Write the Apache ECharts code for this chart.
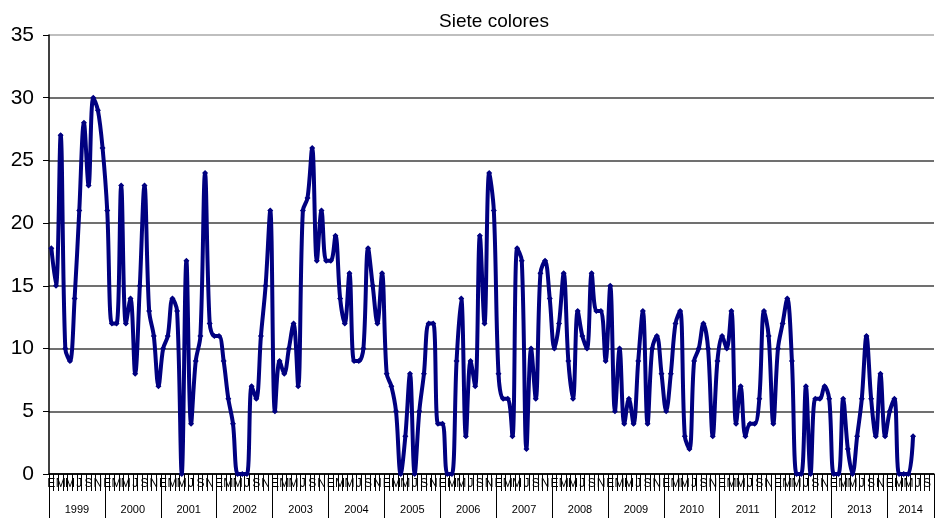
<!DOCTYPE html>
<html>
<head>
<meta charset="utf-8">
<script src="https://cdn.jsdelivr.net/npm/echarts@6/dist/echarts.min.js"></script>
<style>
html,body{margin:0;padding:0;background:#fff;}
#chart{width:937px;height:518px;}
</style>
</head>
<body>
<div id="chart"></div>
<script>
const monthLetters = ['E','F','M','A','M','J','J','A','S','O','N','D'];
const years = ['1999','2000','2001','2002','2003','2004','2005','2006','2007','2008','2009','2010','2011','2012','2013','2014'];
const monthsIn2014 = 10;
const yTicks = [0,5,10,15,20,25,30,35];

const values1999 = [18,15,27,10,9,14,21,28,23,30,29,26];
const values2000 = [21,12,12,23,12,14,8,15,23,13,11,7];
const values2001 = [10,11,14,13,0,17,4,9,11,24,12,11];
const values2002 = [11,9,6,4,0,0,0,7,6,11,15,21];
const values2003 = [5,9,8,10,12,7,21,22,26,17,21,17];
const values2004 = [17,19,14,12,16,9,9,10,18,15,12,16];
const values2005 = [8,7,5,0,3,8,0,5,8,12,12,4];
const values2006 = [4,0,0,9,14,3,9,7,19,12,24,21];
const values2007 = [8,6,6,3,18,17,2,10,6,16,17,14];
const values2008 = [10,12,16,9,6,13,11,10,16,13,13,9];
const values2009 = [15,5,10,4,6,4,9,13,4,10,11,8];
const values2010 = [5,8,12,13,3,2,9,10,12,10,3,9];
const values2011 = [11,10,13,4,7,3,4,4,6,13,11,4];
const values2012 = [10,12,14,9,0,0,7,0,6,6,7,6];
const values2013 = [0,0,6,2,0,3,6,11,6,3,8,3];
const values2014 = [5,6,0,0,0,3,null,null,null,null];

const series = [].concat(values1999,values2000,values2001,values2002,values2003,values2004,
  values2005,values2006,values2007,values2008,values2009,values2010,values2011,values2012,
  values2013,values2014);

const categories = [];
years.forEach((y, k) => {
  const n = (k === years.length - 1) ? monthsIn2014 : 12;
  for (let m = 0; m < n; m++) categories.push(monthLetters[m]);
});
const total = categories.length;

const yearTickPos = [];
const yearLabelPos = [];
const yearLabelMap = {};
years.forEach((y, k) => {
  const start = k * 12;
  const end = Math.min(start + 12, total);
  yearTickPos.push(start);
  const c = (start + end) / 2;
  yearLabelPos.push(c);
  yearLabelMap[c] = y;
});
yearTickPos.push(total);

const chart = echarts.init(document.getElementById('chart'), null, {renderer:'canvas'});
const font = 'Liberation Sans, Arial, sans-serif';
chart.setOption({
  animation: false,
  backgroundColor: '#fff',
  title: {
    text: 'Siete colores',
    left: 489,
    textAlign: 'center',
    top: 7,
    textStyle: {fontFamily: font, fontSize: 19, fontWeight: 'normal', color: '#000'}
  },
  grid: {left: 49, right: 3, top: 35, bottom: 44, containLabel: false},
  xAxis: [
    {
      type: 'category',
      data: categories,
      boundaryGap: true,
      position: 'bottom',
      axisLine: {show: true, lineStyle: {color: '#000', width: 1.5}},
      axisTick: {show: true, interval: 0, length: 17, lineStyle: {color: '#000', width: 1}},
      axisLabel: {interval: 1, margin: 4, fontSize: 12, fontFamily: 'Liberation Sans Narrow, Arial Narrow, sans-serif', color: '#000'},
      splitLine: {show: false}
    },
    {
      type: 'value',
      min: 0,
      max: total,
      position: 'bottom',
      axisLine: {show: false},
      axisTick: {show: true, customValues: yearTickPos, length: 44, lineStyle: {color: '#000', width: 1}},
      axisLabel: {
        customValues: yearLabelPos,
        margin: 30,
        fontSize: 11,
        fontFamily: font,
        color: '#000',
        formatter: v => yearLabelMap[v] || ''
      },
      splitLine: {show: false}
    }
  ],
  yAxis: {
    type: 'value',
    min: 0,
    max: 35,
    interval: 5,
    axisLine: {show: true, lineStyle: {color: '#000', width: 1.5}},
    axisTick: {show: true, length: 6, lineStyle: {color: '#000'}},
    axisLabel: {fontSize: 21, fontFamily: font, color: '#000', margin: 15,
      formatter: v => yTicks.indexOf(v) >= 0 ? String(v) : ''},
    splitLine: {show: true, lineStyle: {color: ['#000','#404040','#404040','#404040','#404040','#404040','#404040','#aaaaaa'], width: 1.5}}
  },
  series: [{
    type: 'line',
    xAxisIndex: 0,
    data: series,
    smooth: 0.35,
    connectNulls: false,
    symbol: 'diamond',
    symbolSize: 6,
    showAllSymbol: true,
    itemStyle: {color: '#000080'},
    lineStyle: {color: '#000080', width: 4}
  }]
});
</script>
</body>
</html>
